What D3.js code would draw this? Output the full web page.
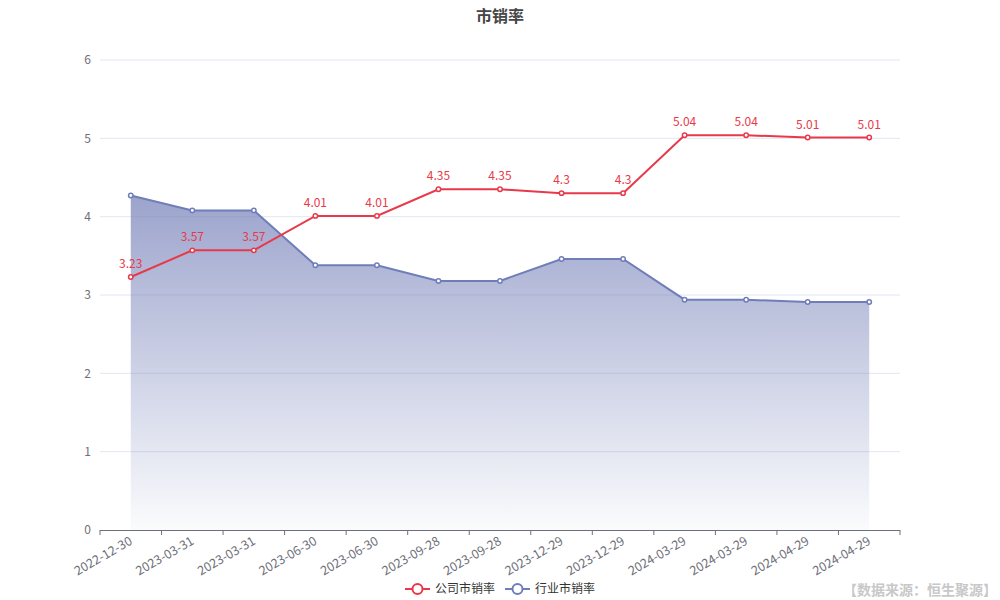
<!DOCTYPE html>
<html><head><meta charset="utf-8">
<script src="https://cdn.jsdelivr.net/npm/d3@7/dist/d3.min.js"></script>
<style>body{margin:0;background:#fff;}svg{display:block;font-family:"Noto Sans CJK SC","Noto Sans",sans-serif;}</style>
</head><body><svg id="c" width="1000" height="600"></svg>
<script>
const categories = ["2022-12-30","2023-03-31","2023-03-31","2023-06-30","2023-06-30","2023-09-28","2023-09-28","2023-12-29","2023-12-29","2024-03-29","2024-03-29","2024-04-29","2024-04-29"];
const companyPS = [3.23,3.57,3.57,4.01,4.01,4.35,4.35,4.3,4.3,5.04,5.04,5.01,5.01];
const industryPS = [4.27,4.08,4.08,3.38,3.38,3.18,3.18,3.46,3.46,2.94,2.94,2.91,2.91];
const yTicks = [0,1,2,3,4,5,6];
const seriesNames = ["公司市销率","行业市销率"];
const titleText = "市销率";
const sourceText = "【数据来源：恒生聚源】";

(function(){
const red = "#e8394a", blue = "#6f7db9";
const svg = d3.select("#c");
const pl = 100, pr = 900, pt = 60, pb = 530;
const idx = categories.map((d,i)=>i);
const x = d3.scaleBand().domain(idx).range([pl,pr]);
const cx = i => x(i) + x.bandwidth()/2;
const y = d3.scaleLinear().domain([0,6]).range([pb,pt]);

const defs = svg.append("defs");
const g = defs.append("linearGradient").attr("id","ag").attr("x1",0).attr("y1",0).attr("x2",0).attr("y2",1);
g.append("stop").attr("offset","0%").attr("stop-color","rgb(128,138,190)").attr("stop-opacity",0.78);
g.append("stop").attr("offset","100%").attr("stop-color","rgb(128,138,190)").attr("stop-opacity",0.03);

svg.append("g").selectAll("line").data(yTicks.filter(t=>t>0)).join("line")
  .attr("x1",pl).attr("x2",pr).attr("y1",d=>y(d)).attr("y2",d=>y(d))
  .attr("stroke","#e0e6f1").attr("stroke-width",1);

svg.append("g").selectAll("text").data(yTicks).join("text")
  .attr("x",91).attr("y",d=>y(d)).attr("dy","0.35em").attr("text-anchor","end")
  .attr("fill","#6e7079").attr("font-size",12).text(d=>d);

const area = d3.area().x((d,i)=>cx(i)).y0(y(0)).y1(d=>y(d));
svg.append("path").datum(industryPS).attr("d",area).attr("fill","url(#ag)");

const xAxisG = svg.append("g");
xAxisG.append("line").attr("x1",pl).attr("x2",pr).attr("y1",pb+0.5).attr("y2",pb+0.5).attr("stroke","#6e7079");
const bounds = idx.map(i=>x(i)).concat([pr]);
xAxisG.selectAll("line.t").data(bounds).join("line").attr("class","t")
  .attr("x1",d=>d).attr("x2",d=>d).attr("y1",pb).attr("y2",pb+5).attr("stroke","#6e7079");
xAxisG.selectAll("text").data(categories).join("text")
  .attr("transform",(d,i)=>`translate(${cx(i)-2},${pb+6}) rotate(-30)`)
  .attr("text-anchor","end").attr("dy","0.7em").attr("fill","#6e7079").attr("font-size",12.5).text(d=>d);

const line = d3.line().x((d,i)=>cx(i)).y(d=>y(d));
function drawSeries(data,color,labels){
  svg.append("path").datum(data).attr("d",line).attr("fill","none").attr("stroke",color).attr("stroke-width",2);
  svg.append("g").selectAll("circle").data(data).join("circle")
    .attr("cx",(d,i)=>cx(i)).attr("cy",d=>y(d)).attr("r",2.2)
    .attr("fill","#fff").attr("stroke",color).attr("stroke-width",1.5);
  if(labels){
    svg.append("g").selectAll("text").data(data).join("text")
      .attr("x",(d,i)=>cx(i)).attr("y",d=>y(d)-9).attr("text-anchor","middle")
      .attr("fill",color).attr("font-size",12).text(d=>d);
  }
}
drawSeries(industryPS,blue,false);
drawSeries(companyPS,red,true);

svg.append("text").attr("x",500).attr("y",22).attr("text-anchor","middle")
  .attr("font-size",16).attr("font-weight","bold").attr("fill","#464646").text(titleText);

const leg = svg.append("g");
const legItems = [{n:seriesNames[0],c:red,x:405},{n:seriesNames[1],c:blue,x:505}];
legItems.forEach(it=>{
  const gg = leg.append("g").attr("transform",`translate(${it.x},589)`);
  gg.append("line").attr("x1",0).attr("x2",25).attr("y1",0).attr("y2",0).attr("stroke",it.c).attr("stroke-width",2);
  gg.append("circle").attr("cx",12.5).attr("cy",0).attr("r",5).attr("fill","#fff").attr("stroke",it.c).attr("stroke-width",2);
  gg.append("text").attr("x",30).attr("y",0).attr("dy","0.35em").attr("font-size",12).attr("fill","#333").text(it.n);
});

svg.append("text").attr("x",997).attr("y",590).attr("dy","0.35em").attr("text-anchor","end")
  .attr("font-size",14).attr("font-weight","bold").attr("fill","#c8c8c8").text(sourceText);
})();
</script></body></html>
